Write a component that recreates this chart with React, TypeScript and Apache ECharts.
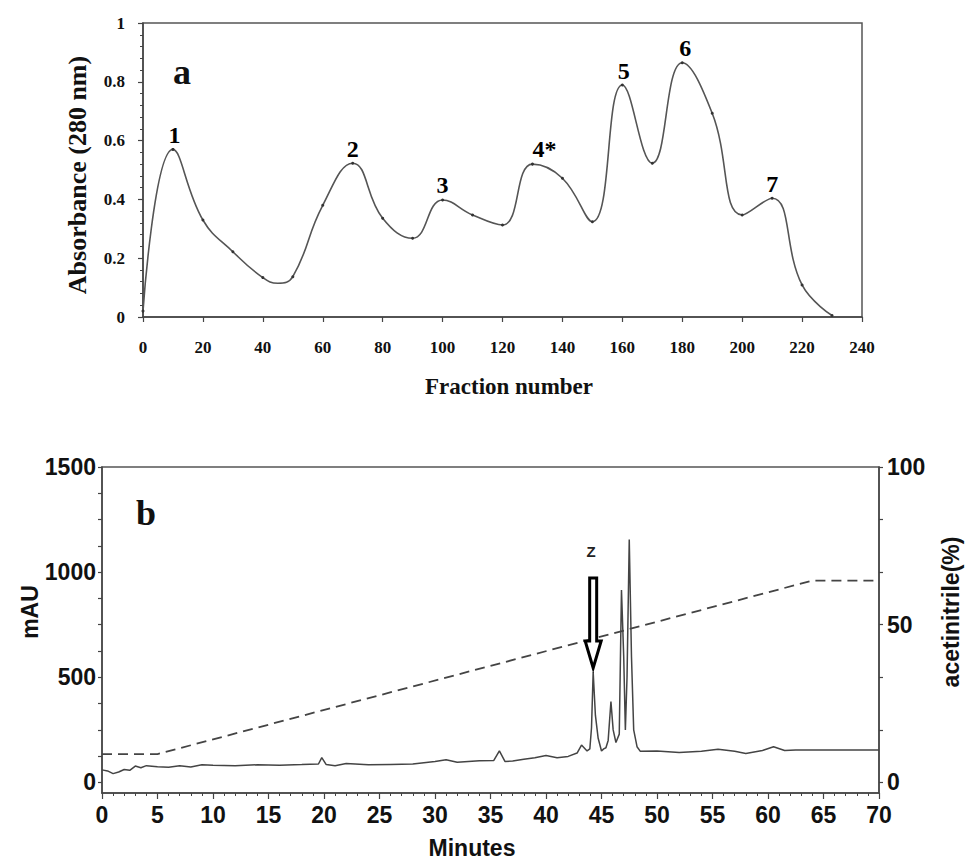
import React, { useEffect, useRef } from "react";
import * as echarts from "echarts";

// ---------- Panel a: gel filtration profile ----------
const fractions = [0, 10, 20, 30, 40, 45, 50, 60, 70, 80, 90, 100, 110, 120, 130, 140, 150, 160, 170, 180, 190, 200, 210, 220, 230];
const absorbance = [0.02, 0.57, 0.33, 0.222, 0.134, 0.115, 0.137, 0.38, 0.523, 0.336, 0.268, 0.398, 0.347, 0.313, 0.52, 0.472, 0.324, 0.789, 0.523, 0.865, 0.693, 0.347, 0.404, 0.109, 0.005];
const peakLabels = ["1", "2", "3", "4*", "5", "6", "7"];
const peakFractions = [10.5, 70, 100, 134, 160.5, 181, 210];
const peakAbs = [0.57, 0.525, 0.4, 0.525, 0.79, 0.868, 0.405];
const absTicks = [0, 0.2, 0.4, 0.6, 0.8, 1];
const fractionTicks = [0, 20, 40, 60, 80, 100, 120, 140, 160, 180, 200, 220, 240];

// ---------- Panel b: RP-HPLC chromatogram ----------
const minutes = [0, 0.5, 1, 1.5, 2, 2.5, 3, 3.5, 4, 5, 6, 7, 8, 9, 10, 12, 14, 16, 18, 19.5, 19.8, 20.2, 21, 22, 24, 26, 28, 30, 31, 32, 34, 35.3, 35.8, 36.3, 37, 38, 39, 40, 41, 42, 42.8, 43.2, 43.7, 43.95, 44.1, 44.25, 44.45, 44.7, 45.0, 45.2, 45.4, 45.6, 45.85, 46.05, 46.3, 46.6, 46.8, 47.0, 47.15, 47.3, 47.5, 47.7, 47.9, 48.2, 48.5, 50, 52, 54, 55.5, 57, 58, 59.5, 60.5, 61.5, 62.5, 70];
const mAU = [60, 55, 42, 50, 62, 58, 78, 70, 80, 75, 72, 80, 74, 84, 82, 80, 84, 82, 85, 88, 118, 85, 80, 90, 84, 86, 88, 100, 108, 96, 103, 105, 150, 100, 102, 110, 118, 128, 118, 124, 140, 178, 150, 160, 260, 525, 320, 210, 150, 160, 165, 200, 385, 250, 190, 230, 915, 600, 250, 500, 1155, 600, 250, 170, 148, 150, 142, 148, 158, 148, 138, 152, 170, 152, 155, 155];
const gradientMinutes = [0, 5, 64, 70];
const acetonitrile = [9, 9, 64, 64];
const mauLabelValues = [0, 500, 1000, 1500];
const mauTickValues = [0, 125, 250, 375, 500, 625, 750, 875, 1000, 1125, 1250, 1375, 1500];
const acnLabelValues = [0, 50, 100];
const acnTickValues = [0, 16.67, 33.33, 50, 66.67, 83.33, 100];
const zPeak = [44.25, 535];

const SERIF = "Liberation Serif";
const SANS = "Liberation Sans";
const AX = "#444";

export default function App() {
  const ref = useRef<HTMLDivElement>(null);

  useEffect(() => {
    if (!ref.current) return;
    const chart = echarts.init(ref.current, undefined, { renderer: "svg" });

    const serifLabel = { color: "#111", fontFamily: SERIF, fontWeight: "bold" as const, fontSize: 17 };
    const sansLabel = { color: "#111", fontFamily: SANS, fontWeight: "bold" as const, fontSize: 23 };
    const plain = (v: number) => String(v);

    const option: any = {
      animation: false,
      backgroundColor: "#fff",
      grid: [
        { left: 143, top: 23, width: 719, height: 294, show: true, borderColor: "#555", borderWidth: 1.5, backgroundColor: "transparent" },
        { left: 102, top: 467, width: 777, height: 326, show: true, borderColor: "#555", borderWidth: 1.5, backgroundColor: "transparent" },
      ],
      xAxis: [
        {
          gridIndex: 0, type: "value", min: 0, max: 240, interval: 20,
          axisLine: { show: true, onZero: false, lineStyle: { color: AX, width: 1.5 } },
          axisTick: { show: true, length: 5, lineStyle: { color: AX, width: 1.2 } },
          splitLine: { show: false },
          axisLabel: { ...serifLabel, margin: 22, customValues: fractionTicks, formatter: plain },
        },
        {
          gridIndex: 1, type: "value", min: 0, max: 70, interval: 5,
          axisLine: { show: true, onZero: false, lineStyle: { color: AX, width: 1.5 } },
          axisTick: { show: true, length: 6, lineStyle: { color: AX, width: 1.2 } },
          minorTick: { show: true, splitNumber: 5, length: 3, lineStyle: { color: AX, width: 1 } },
          splitLine: { show: false },
          axisLabel: { ...sansLabel, margin: 10, formatter: plain },
        },
      ],
      yAxis: [
        {
          gridIndex: 0, type: "value", min: 0, max: 1, interval: 0.2,
          axisLine: { show: true, onZero: false, lineStyle: { color: AX, width: 1.5 } },
          axisTick: { show: true, length: 5, lineStyle: { color: AX, width: 1.2 } },
          minorTick: { show: true, splitNumber: 5, length: 3, lineStyle: { color: AX, width: 1 } },
          splitLine: { show: false },
          axisLabel: { ...serifLabel, margin: 18, customValues: absTicks, formatter: plain },
        },
        {
          gridIndex: 1, type: "value", min: -50, max: 1500,
          axisLine: { show: true, onZero: false, lineStyle: { color: AX, width: 1.5 } },
          axisTick: { show: true, length: 4, customValues: mauTickValues, lineStyle: { color: AX, width: 1.2 } },
          splitLine: { show: false },
          axisLabel: { ...sansLabel, margin: 6, customValues: mauLabelValues, formatter: plain },
        },
        {
          gridIndex: 1, type: "value", position: "right", min: -10 / 3, max: 100,
          axisLine: { show: true, onZero: false, lineStyle: { color: AX, width: 1.5 } },
          axisTick: { show: true, length: 4, customValues: acnTickValues, lineStyle: { color: AX, width: 1.2 } },
          splitLine: { show: false },
          axisLabel: { ...sansLabel, margin: 8, customValues: acnLabelValues, formatter: plain },
        },
      ],
      series: [
        {
          type: "line", xAxisIndex: 0, yAxisIndex: 0,
          data: fractions.map((f, i) =>
            f % 10 === 0 ? { value: [f, absorbance[i]] } : { value: [f, absorbance[i]], symbol: "none" }
          ),
          smooth: 0.45, symbol: "circle", symbolSize: 3, showSymbol: true,
          lineStyle: { color: "#555", width: 1.6 },
          itemStyle: { color: "#333" },
          z: 3,
        },
        {
          type: "scatter", xAxisIndex: 0, yAxisIndex: 0, symbolSize: 0,
          data: peakFractions.map((f, i) => ({ name: peakLabels[i], value: [f, peakAbs[i]] })),
          label: { show: true, position: "top", distance: 2, formatter: "{b}", color: "#000", opacity: 1, fontFamily: SERIF, fontWeight: "bold", fontSize: 24 },
          itemStyle: { color: "#000", opacity: 1 },
          silent: true,
        },
        {
          type: "line", xAxisIndex: 1, yAxisIndex: 1,
          data: minutes.map((m, i) => [m, mAU[i]]),
          symbol: "none", lineStyle: { color: "#444", width: 1.5 },
          z: 3,
        },
        {
          type: "line", xAxisIndex: 1, yAxisIndex: 2,
          data: gradientMinutes.map((m, i) => [m, acetonitrile[i]]),
          symbol: "none", lineStyle: { color: "#444", width: 1.8, type: [10, 6] },
          z: 2,
        },
      ],
    };
    chart.setOption(option);

    const tip = chart.convertToPixel({ xAxisIndex: 1, yAxisIndex: 1 } as any, zPeak) as number[];
    const tx = tip[0];
    const ty = tip[1] - 2;

    chart.setOption({
      graphic: [
        { type: "text", x: 182, y: 72, z: 10, style: { text: "a", font: `bold 36px "${SERIF}"`, fill: "#111", align: "center", verticalAlign: "middle", textAlign: "center", textVerticalAlign: "middle" } },
        { type: "text", x: 77, y: 175, rotation: Math.PI / 2, z: 10, style: { text: "Absorbance (280 nm)", font: `bold 26px "${SERIF}"`, fill: "#111", align: "center", verticalAlign: "middle", textAlign: "center", textVerticalAlign: "middle" } },
        { type: "text", x: 509, y: 386, z: 10, style: { text: "Fraction number", font: `bold 23px "${SERIF}"`, fill: "#111", align: "center", verticalAlign: "middle", textAlign: "center", textVerticalAlign: "middle" } },
        { type: "text", x: 146, y: 513, z: 10, style: { text: "b", font: `bold 36px "${SERIF}"`, fill: "#111", align: "center", verticalAlign: "middle", textAlign: "center", textVerticalAlign: "middle" } },
        { type: "text", x: 30, y: 612, rotation: Math.PI / 2, z: 10, style: { text: "mAU", font: `bold 23px "${SANS}"`, fill: "#111", align: "center", verticalAlign: "middle", textAlign: "center", textVerticalAlign: "middle" } },
        { type: "text", x: 951, y: 612, rotation: Math.PI / 2, z: 10, style: { text: "acetinitrile(%)", font: `bold 23px "${SANS}"`, fill: "#111", align: "center", verticalAlign: "middle", textAlign: "center", textVerticalAlign: "middle" } },
        { type: "text", x: 472, y: 848, z: 10, style: { text: "Minutes", font: `bold 23px "${SANS}"`, fill: "#111", align: "center", verticalAlign: "middle", textAlign: "center", textVerticalAlign: "middle" } },
        { type: "text", x: tx - 2, y: ty - 116, z: 10, style: { text: "Z", font: `bold 15px "${SANS}"`, fill: "#222", align: "center", verticalAlign: "middle", textAlign: "center", textVerticalAlign: "middle" } },
        {
          type: "polygon", z: 10,
          shape: {
            points: [
              [tx - 3.5, ty - 90], [tx + 3.5, ty - 90], [tx + 3.5, ty - 27], [tx + 8, ty - 27],
              [tx, ty], [tx - 8, ty - 27], [tx - 3.5, ty - 27],
            ],
          },
          style: { fill: "#fff", stroke: "#000", lineWidth: 3, lineJoin: "miter" },
        },
      ],
    });

    return () => chart.dispose();
  }, []);

  return <div ref={ref} style={{ position: "absolute", left: 0, top: 0, width: 966, height: 863 }} />;
}
